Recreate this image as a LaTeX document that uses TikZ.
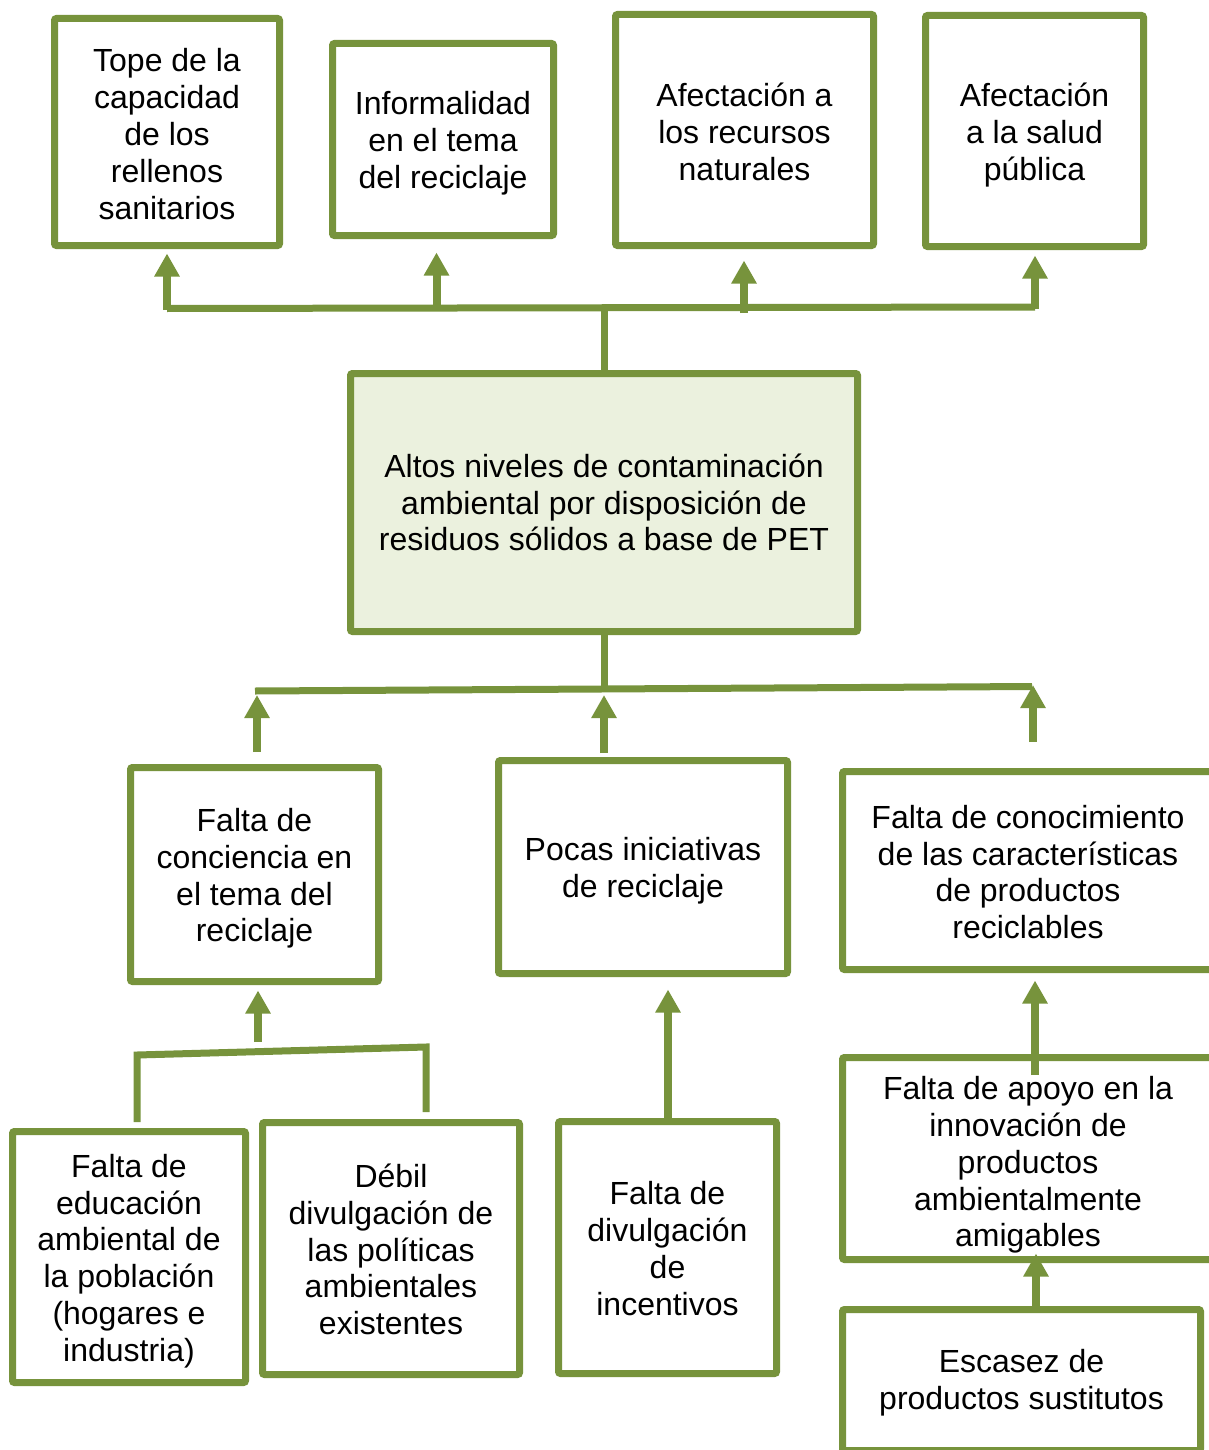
\documentclass[tikz,border=0pt]{standalone}
\usepackage{fontspec}
\setmainfont{Liberation Sans}
\usetikzlibrary{arrows.meta}
\definecolor{olive}{HTML}{77933C}
\definecolor{palegreen}{HTML}{EBF1DE}
\tikzset{
  box/.style={draw=olive, line width=7pt, rectangle, rounded corners=2pt, inner sep=0pt, fill=white},
  txt/.style={align=center, inner sep=0pt, font=\fontsize{32}{36.8}\selectfont},
  ln/.style={draw=olive, line width=7pt},
  arr/.style={draw=olive, line width=8pt, -{Triangle[length=23pt,width=24pt]}},
}
\begin{document}
\begin{tikzpicture}[x=1pt,y=-1pt]
\useasboundingbox (0,0) rectangle (1209,1450);
\clip (0,0) rectangle (1209,1450);
% top effects
\node[box, minimum width=225pt, minimum height=227pt] (n1) at (167,132) {};
\node[txt] (n1t) at ([yshift=-2pt]n1.center) {Tope de la\\capacidad\\de los\\rellenos\\sanitarios};
\node[box, minimum width=221pt, minimum height=192pt] (n2) at (443,139.5) {};
\node[txt] (n2t) at ([yshift=-4pt]n2.center) {Informalidad\\en el tema\\del reciclaje};
\node[box, minimum width=258pt, minimum height=231pt] (n3) at (744.5,130) {};
\node[txt] (n3t) at ([yshift=-2pt]n3.center) {Afectación a\\los recursos\\naturales};
\node[box, minimum width=218pt, minimum height=231pt] (n4) at (1034.5,131) {};
\node[txt] (n4t) at ([yshift=-4pt]n4.center) {Afectación\\a la salud\\pública};
% central problem
\node[box, fill=palegreen, minimum width=507pt, minimum height=258pt] (c) at (604,502.5) {};
\node[txt] (ct) at (c.center) {Altos niveles de contaminación\\ambiental por disposición de\\residuos sólidos a base de PET};
% causes
\node[box, minimum width=248pt, minimum height=214pt] (m1) at (254.5,874.5) {};
\node[txt] (m1t) at ([yshift=-4pt]m1.center) {Falta de\\conciencia en\\el tema del\\reciclaje};
\node[box, minimum width=289pt, minimum height=213pt] (m2) at (643,867) {};
\node[txt] (m2t) at ([yshift=-4pt]m2.center) {Pocas iniciativas\\de reciclaje};
\node[box, minimum width=371pt, minimum height=198pt] (m3) at (1028,870.5) {};
\node[txt] (m3t) at (1028,872) {Falta de conocimiento\\de las características\\de productos\\reciclables};
\node[box, minimum width=233pt, minimum height=251pt] (b1) at (129,1257) {};
\node[txt] (b1t) at ([yshift=-4pt]b1.center) {Falta de\\educación\\ambiental de\\la población\\(hogares e\\industria)};
\node[box, minimum width=257pt, minimum height=252pt] (b2) at (391,1248.5) {};
\node[txt] (b2t) at ([yshift=-1pt]b2.center) {Débil\\divulgación de\\las políticas\\ambientales\\existentes};
\node[box, minimum width=218pt, minimum height=252pt] (b3) at (667.5,1247.5) {};
\node[txt] (b3t) at ([yshift=-1pt]b3.center) {Falta de\\divulgación\\de\\incentivos};
\node[box, minimum width=371pt, minimum height=202pt] (b4) at (1028,1158.5) {};
\node[txt] (b4t) at (1028,1165) {Falta de apoyo en la\\innovación de\\productos\\ambientalmente\\amigables};
\node[box, minimum width=358pt, minimum height=141pt] (b5) at (1021.5,1380) {};
\node[txt] (b5t) at ([yshift=-3pt]b5.center) {Escasez de\\productos sustitutos};
% top connectors
\coordinate (tl) at (167,308.5);
\coordinate (tr) at (1035,307);
\coordinate (tm) at (604,308);
\draw[ln] (tl) -- (tr);
\draw[ln] (c.north) -- (tm);
\draw[arr] (167,310) -- ([yshift=-4.5pt]n1.south -| 167,0);
\draw[arr] (436.5,310) -- ([yshift=-13.5pt]n2.south -| 436.5,0);
\draw[arr] (744,313) -- ([yshift=-11.5pt]n3.south -| 744,0);
\draw[arr] (1035,309) -- ([yshift=-5.5pt]n4.south -| 1035,0);
% middle connectors
\coordinate (ml) at (255,691);
\coordinate (mr) at (1032,686.5);
\coordinate (mm) at (604,687);
\draw[ln] (ml) -- (mr);
\draw[ln] (c.south) -- (mm);
\coordinate (a1) at (257,695);
\coordinate (a2) at (604,695);
\coordinate (a3) at (1033,685);
\draw[arr] (257,752) -- (a1);
\draw[arr] (604,753) -- (a2);
\draw[arr] (1033,742) -- (a3);
% bottom connectors
\coordinate (bl) at (137,1122);
\coordinate (blt) at (137,1055);
\coordinate (brt) at (426,1047);
\coordinate (br) at (426,1112);
\draw[ln, line join=miter] (bl) -- (blt) -- (brt) -- (br);
\draw[arr] (258,1042) -- ([yshift=-5.5pt]m1.south -| 258,0);
\draw[arr] (b3.north -| 668,0) -- ([yshift=-12.5pt]m2.south -| 668,0);
\draw[arr] (1035,1075) -- ([yshift=-7.5pt]m3.south -| 1035,0);
\draw[arr] (b5.north -| 1036,0) -- ([yshift=9.5pt]b4.south -| 1036,0);
\end{tikzpicture}
\end{document}
